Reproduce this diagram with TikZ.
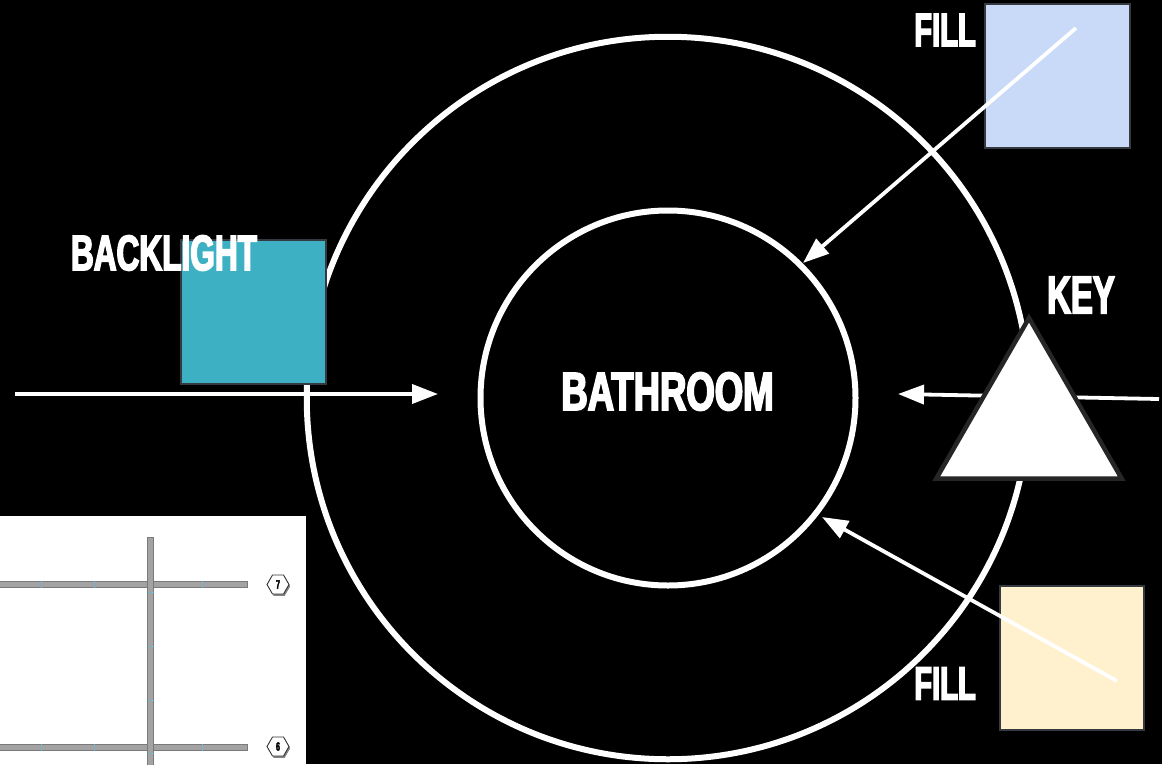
\documentclass[tikz,border=0pt]{standalone}
\usepackage{fontspec}
\usepackage{xcolor}
\usepackage{tikz}
\usetikzlibrary{arrows.meta,shapes.geometric,shadows}
\newfontfamily\labelfont[FakeStretch=0.62,FakeBold=3]{Liberation Sans Bold}
\definecolor{backteal}{HTML}{3DB1C3}
\definecolor{fillblue}{HTML}{C9D9F8}
\definecolor{fillcream}{HTML}{FFF0CE}
\definecolor{edgedark}{HTML}{343A40}
\definecolor{beamgray}{HTML}{A3A3A3}
\definecolor{beamedge}{HTML}{7A7A7A}
\definecolor{tickblue}{HTML}{6FB7CC}
\tikzset{
  room ring/.style={circle, draw=white, line width=6pt, inner sep=0pt},
  light box/.style={rectangle, draw=edgedark, line width=2.2pt, inner sep=0pt, minimum size=144.5pt},
  key prism/.style={regular polygon, regular polygon sides=3, draw=black!85, fill=white, line width=4.5pt, inner sep=0pt, outer sep=0pt, minimum size=214pt},
  light beam/.style={draw=white, line width=3.8pt, -{Triangle[length=26pt,width=19pt,fill=white]}},
  room label/.style={text=white, inner sep=0pt, font=\labelfont\fontsize{#1}{#1}\selectfont},
  plan beam/.style={draw=beamedge, fill=beamgray, line width=0.8pt},
  plan tick/.style={draw=tickblue, line width=0.7pt},
  grid badge/.style={regular polygon, regular polygon sides=6, draw=black!80, fill=white, line width=0.9pt, inner sep=0pt, minimum size=22pt,
    drop shadow={shadow xshift=1.2pt, shadow yshift=-1.8pt, fill=black!60, opacity=0.8},
    font=\labelfont\fontsize{12}{12}\selectfont}
}
\begin{document}
\begin{tikzpicture}[x=1pt, y=-1pt]
  \fill[black] (0,0) rectangle (1162,764);
  \useasboundingbox (0,0) rectangle (1162,764);
  \clip (0,0) rectangle (1162,764);
  % rings
  \node[room ring, minimum size=722.5pt] (outer) at (668,398) {};
  \node[room ring, minimum size=375pt] (inner) at (668,398) {};
  % lights
  \node[light box, fill=backteal] (backbox) at (253.5,312) {};
  \node[light box, fill=fillblue] (fillbluebox) at (1057.5,76) {};
  \node[light box, fill=fillcream] (fillcreambox) at (1072,658) {};
  % beams
  \coordinate (backstart) at (15,394);
  \coordinate (backend) at (438,394);
  \coordinate (keystart) at (1159,399);
  \coordinate (keyend) at (898,394);
  \coordinate (fillbluestart) at (1076,28);
  \coordinate (fillblueend) at (803,263);
  \coordinate (fillcreamstart) at (1117,681);
  \coordinate (fillcreamend) at (822,517);
  \draw[light beam] (backstart) -- (backend);
  \draw[light beam] (keystart) -- (keyend);
  \draw[light beam] (fillbluestart) -- (fillblueend);
  \draw[light beam] (fillcreamstart) -- (fillcreamend);
  \node[key prism] (keybox) at (1029,425) {};
  % labels
  \node[room label=50] (backlabel) at (164,253) {\scalebox{1.02}[1]{BACKLIGHT}};
  \node[room label=54] (roomlabel) at (667.5,391.5) {\scalebox{1.09}[1]{BATHROOM}};
  \node[room label=53] (keylabel) at (1081,295) {KEY};
  \node[room label=47] (filltoplabel) at (945,30) {FILL};
  \node[room label=47] (fillbottomlabel) at (945,683.5) {FILL};
  % plan inset
  \node[rectangle, fill=white, inner sep=0pt, minimum width=306pt, minimum height=248pt] (plan) at (153,640) {};
  \filldraw[plan beam] (-3,581) rectangle (247,587.5);
  \filldraw[plan beam] (-3,744) rectangle (247,750.5);
  \foreach \tickx in {41,94,202} {
    \draw[plan tick] (\tickx,581) -- (\tickx,587.5);
    \draw[plan tick] (\tickx,744) -- (\tickx,750.5);
  }
  \filldraw[plan beam] (147.5,537.5) rectangle (153.5,768);
  \foreach \ticky in {592,646,700,753} {
    \draw[plan tick] (147.5,\ticky) -- (153.5,\ticky);
  }
  \node[grid badge] (seven) at (278,584.5) {7};
  \node[grid badge] (six) at (278,746.5) {6};
\end{tikzpicture}
\end{document}
